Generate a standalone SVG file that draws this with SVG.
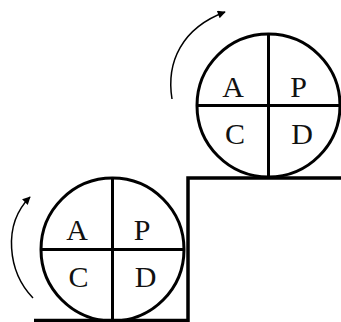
<svg xmlns="http://www.w3.org/2000/svg" width="341" height="322" viewBox="0 0 341 322">
  <style>
    .ring { fill: none; stroke: #000; stroke-width: 3; }
    .div { stroke: #000; stroke-width: 3; }
    .lbl { font-family: "Liberation Serif", "Times New Roman", serif; font-size: 30px; fill: #111; text-anchor: middle; }
    .stair { fill: none; stroke: #000; stroke-width: 3.5; }
    .arrow { fill: none; stroke: #000; stroke-width: 1.5; marker-end: url(#ah); }
  </style>
  <defs>
    <marker id="ah" viewBox="0 0 10 10" refX="9" refY="5" markerWidth="9" markerHeight="8" markerUnits="userSpaceOnUse" orient="auto">
      <path d="M0,0 L10,5 L0,10 Z" fill="#000"/>
    </marker>
  </defs>
  <rect width="341" height="322" fill="#fff"/>
  <g id="stairs">
    <path class="stair" d="M34,320.5 H188 V178 H341"/>
  </g>
  <g id="connectors">
    <path class="arrow" d="M33,298 C8,272 2,225 30,197"/>
    <path class="arrow" d="M172,99 C166,62 182,28 225,12"/>
  </g>
  <g id="pdca-lower">
    <circle class="ring" cx="112.5" cy="249.5" r="71.5"/>
    <line class="div" x1="112.5" y1="178" x2="112.5" y2="320.5"/>
    <line class="div" x1="41" y1="249.5" x2="184" y2="249.5"/>
    <text class="lbl" x="77" y="240">A</text>
    <text class="lbl" x="142" y="240">P</text>
    <text class="lbl" x="78.5" y="287">C</text>
    <text class="lbl" x="145.5" y="287">D</text>
  </g>
  <g id="pdca-upper">
    <circle class="ring" cx="268.5" cy="105.5" r="71.5"/>
    <line class="div" x1="268.5" y1="34" x2="268.5" y2="177"/>
    <line class="div" x1="197" y1="105.5" x2="340" y2="105.5"/>
    <text class="lbl" x="233" y="97">A</text>
    <text class="lbl" x="298.5" y="97">P</text>
    <text class="lbl" x="235" y="144">C</text>
    <text class="lbl" x="302" y="144">D</text>
  </g>
</svg>
